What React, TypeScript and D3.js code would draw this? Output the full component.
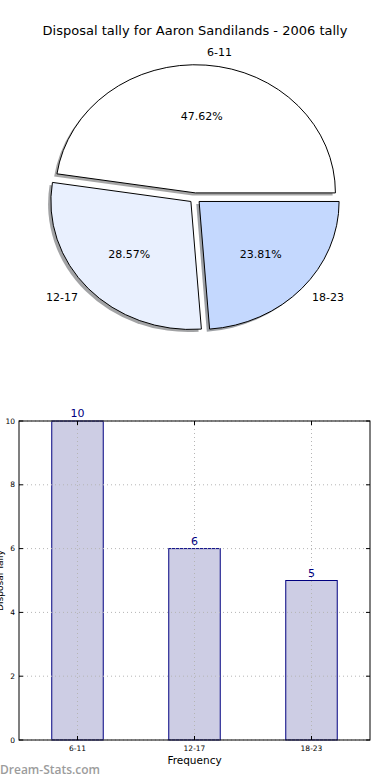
import React from "react"
import * as d3 from "d3"

const title = "Disposal tally for Aaron Sandilands - 2006 tally"
const categories = ["6-11", "12-17", "18-23"]
const tallies = [10, 6, 5]
const sliceColors = ["#ffffff", "#e9f0fe", "#c4d8fe"]
const yTicks = [0, 2, 4, 6, 8, 10]
const xLabel = "Frequency"
const yLabel = "Disposal Tally"
const watermark = "Dream-Stats.com"

const W = 390
const H = 780
const font = "DejaVu Sans, sans-serif"

// pie (matplotlib style: starts at 3 o'clock, counter clockwise, elliptical)
const pieCx = 195
const pieCy = 198
const rx = 140
const ry = 128
const explode = 0.04

// bars
const plot = { left: 19, right: 370, top: 421, bottom: 740 }
const barWidth = 0.44

function Pie() {
  const total = d3.sum(tallies)
  const arcs = d3.pie<number>().sort(null)
    .startAngle(Math.PI / 2)
    .endAngle(Math.PI / 2 - 2 * Math.PI)(tallies)
  const arc = d3.arc<d3.PieArcDatum<number>>().innerRadius(0).outerRadius(1)

  return (
    <g>
      {arcs.map((a, i) => {
        const m = (a.startAngle + a.endAngle) / 2
        const sx = Math.sin(m)
        const sy = -Math.cos(m)
        const ox = pieCx + explode * rx * sx
        const oy = pieCy + explode * ry * sy
        const c = d3.rgb(sliceColors[i])
        const shadow = `rgb(${c.r * 0.3},${c.g * 0.3},${c.b * 0.3})`
        return (
          <g key={i}>
            <path d={arc(a) || ""} fill={shadow} fillOpacity={0.5}
              transform={`translate(${ox - 0.02 * rx},${oy + 0.02 * ry}) scale(${rx},${ry})`} />
            <path d={arc(a) || ""} fill={sliceColors[i]} stroke="#000" strokeWidth={1}
              vectorEffect="non-scaling-stroke" strokeLinejoin="miter"
              transform={`translate(${ox},${oy}) scale(${rx},${ry})`} />
          </g>
        )
      })}
      {arcs.map((a, i) => {
        const m = (a.startAngle + a.endAngle) / 2
        const sx = Math.sin(m)
        const sy = -Math.cos(m)
        const ox = pieCx + explode * rx * sx
        const oy = pieCy + explode * ry * sy
        const lx = ox + 1.1 * rx * sx
        const ly = oy + 1.1 * ry * sy
        const px = ox + 0.6 * rx * sx
        const py = oy + 0.6 * ry * sy
        return (
          <g key={"t" + i} fontFamily={font} fontSize={11} fill="#000">
            <text x={lx} y={ly} dy="0.35em" textAnchor={sx > 0 ? "start" : "end"}>{categories[i]}</text>
            <text x={px} y={py} dy="0.35em" textAnchor="middle">
              {(tallies[i] / total * 100).toFixed(2) + "%"}
            </text>
          </g>
        )
      })}
    </g>
  )
}

function Bars() {
  const x = d3.scaleLinear().domain([-0.5, categories.length - 0.5]).range([plot.left, plot.right])
  const y = d3.scaleLinear().domain([0, 10]).range([plot.bottom, plot.top])
  const grid = { stroke: "#b5b5b5", strokeWidth: 1, strokeDasharray: "1,3" }

  return (
    <g fontFamily={font}>
      {tallies.map((v, i) => (
        <rect key={i} x={x(i - barWidth / 2)} y={y(v)} width={x(barWidth) - x(0)}
          height={y(0) - y(v)} fill="#cdcde4" stroke="#000080" strokeWidth={1} />
      ))}
      {yTicks.map(t => (
        <g key={"y" + t}>
          <line x1={plot.left} x2={plot.right} y1={y(t)} y2={y(t)} {...grid} />
          <line x1={plot.left} x2={plot.left + 4} y1={y(t)} y2={y(t)} stroke="#000" />
          <line x1={plot.right - 4} x2={plot.right} y1={y(t)} y2={y(t)} stroke="#000" />
          <text x={plot.left - 4} y={y(t)} dy="0.35em" textAnchor="end" fontSize={7.5}>{t}</text>
        </g>
      ))}
      {categories.map((c, i) => (
        <g key={"x" + i}>
          <line x1={x(i)} x2={x(i)} y1={plot.top} y2={plot.bottom} {...grid} />
          <line x1={x(i)} x2={x(i)} y1={plot.bottom} y2={plot.bottom - 4} stroke="#000" />
          <line x1={x(i)} x2={x(i)} y1={plot.top} y2={plot.top + 4} stroke="#000" />
          <text x={x(i)} y={plot.bottom + 11} textAnchor="middle" fontSize={7.5}>{c}</text>
        </g>
      ))}
      {tallies.map((v, i) => (
        <text key={"v" + i} x={x(i)} y={y(v) - 4} textAnchor="middle" fontSize={11} fill="#000080">{v}</text>
      ))}
      <rect x={plot.left} y={plot.top} width={plot.right - plot.left} height={plot.bottom - plot.top}
        fill="none" stroke="#000" strokeWidth={1} />
      <text x={(plot.left + plot.right) / 2} y={plot.bottom + 24} textAnchor="middle" fontSize={10.5}>{xLabel}</text>
      <text transform={`translate(3,${(plot.top + plot.bottom) / 2}) rotate(-90)`} textAnchor="middle" fontSize={9}>{yLabel}</text>
    </g>
  )
}

export default function App() {
  return (
    <div style={{ position: "absolute", left: 0, top: 0 }}>
      <svg width={W} height={H} style={{ display: "block", background: "#fff" }}>
        <text x={195} y={30} dy="0.35em" textAnchor="middle" fontFamily={font} fontSize={13}>{title}</text>
        <Pie />
        <Bars />
        <text x={0} y={774} fontFamily="Open Sans, sans-serif" fontSize={12} fontWeight={600} fill="#9c9c9c">{watermark}</text>
      </svg>
    </div>
  )
}
